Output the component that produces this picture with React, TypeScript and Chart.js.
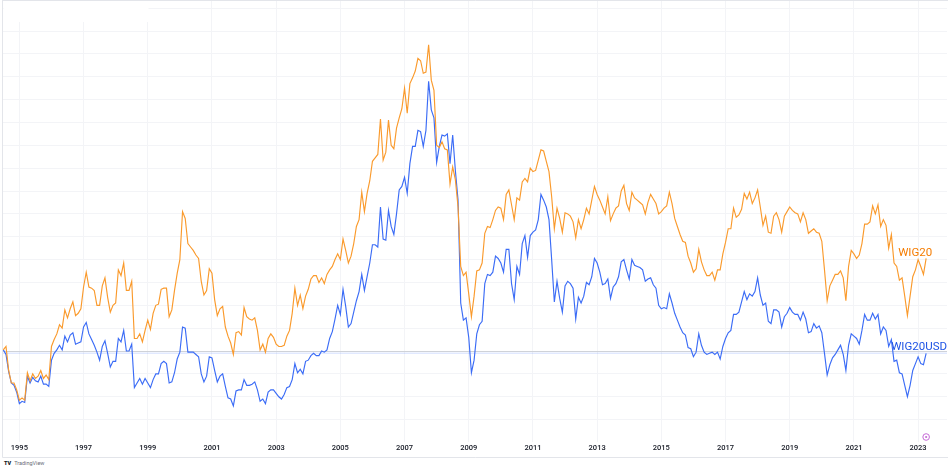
import React, { useEffect, useRef } from "react";
import { Chart, registerables } from "chart.js";

Chart.register(...registerables);

// Monthly closes, percent change from the first month (July 1994)
const START_YEAR = 1994;
const START_MONTH = 7;
const TICK_YEARS = [1995, 1997, 1999, 2001, 2003, 2005, 2007, 2009, 2011, 2013, 2015, 2017, 2019, 2021, 2023];
const GRID_PCT = [-60, -40, -20, 0, 20, 40, 60, 80, 100, 120, 140, 160, 180, 200, 220, 240, 260, 280, 300];
const SERIES_NAMES = ["WIG20", "WIG20USD"];

const WIG20 = [
  1, 4, -17, -28, -28, -34, -43, -41, -43, -19, -26, -20,
  -24, -22, -17, -24, -21, -25, 4, 10, 15, 23, 20, 36,
  29, 37, 43, 31, 33, 37, 56, 69, 56, 55, 53, 40,
  40, 57, 64, 47, 34, 40, 42, 71, 66, 77, 53, 53,
  61, 11, 11, 15, 8, 18, 27, 19, 33, 40, 41, 54,
  55, 55, 30, 36, 53, 68, 80, 122, 116, 94, 91, 88,
  84, 81, 61, 49, 53, 72, 68, 45, 31, 37, 39, 21,
  13, 7, -3, 16, 17, 14, 38, 30, 28, 27, 29, 18,
  1, 6, -1, 11, 15, 12, 6, 4, 4, 5, 13, 18,
  33, 55, 40, 49, 37, 48, 54, 63, 66, 66, 60, 64,
  59, 67, 71, 74, 80, 85, 80, 98, 88, 77, 83, 94,
  109, 115, 139, 122, 138, 149, 166, 169, 172, 203, 167, 174,
  202, 180, 177, 195, 204, 212, 230, 208, 234, 239, 245, 256,
  254, 243, 244, 268, 237, 228, 180, 178, 183, 177, 176, 146,
  161, 150, 126, 74, 66, 69, 50, 30, 48, 70, 71, 77,
  103, 109, 108, 115, 123, 126, 125, 115, 137, 141, 128, 115,
  134, 132, 148, 151, 148, 160, 157, 158, 167, 176, 175, 166,
  157, 135, 107, 125, 116, 104, 121, 120, 118, 113, 99, 115,
  107, 115, 125, 120, 132, 144, 137, 132, 126, 120, 135, 114,
  120, 125, 127, 140, 145, 129, 123, 139, 134, 132, 130, 128,
  120, 130, 137, 133, 129, 120, 122, 125, 127, 139, 129, 116,
  109, 102, 96, 95, 83, 77, 69, 72, 89, 78, 71, 66,
  66, 69, 62, 71, 71, 85, 95, 107, 107, 125, 117, 119,
  124, 138, 133, 139, 129, 134, 141, 126, 110, 118, 104, 103,
  118, 121, 115, 104, 118, 122, 126, 123, 121, 120, 113, 121,
  115, 103, 105, 107, 104, 103, 96, 71, 44, 57, 62, 67,
  67, 70, 64, 44, 74, 88, 85, 81, 84, 94, 111, 111,
  113, 127, 120, 128, 109, 115, 110, 90, 102, 77, 74, 62,
  64, 48, 31, 48, 65, 71, 80, 74, 67, 81,
];

const WIG20USD = [
  1, -3, -18, -28, -30, -36, -46, -44, -45, -22, -28, -23,
  -26, -27, -22, -29, -29, -31, -8, -2, 1, 5, 1, 13,
  8, 14, 16, 6, 7, 8, 21, 25, 15, 10, 5, -1,
  -8, 4, 9, -2, -14, -9, -9, 11, 8, 18, 0, 0,
  6, -32, -28, -24, -29, -24, -28, -32, -25, -20, -20, -11,
  -9, -11, -28, -27, -19, -7, -1, 21, 20, -1, -1, -1,
  -3, -5, -20, -27, -22, -5, -6, -17, -27, -22, -20, -31,
  -41, -42, -48, -35, -34, -34, -25, -30, -30, -29, -27, -34,
  -44, -42, -46, -36, -34, -34, -37, -40, -42, -38, -32, -31,
  -25, -11, -19, -16, -20, -9, -8, -4, -2, -4, -4, 0,
  -1, 1, 11, 17, 28, 40, 32, 54, 39, 21, 24, 34,
  44, 52, 67, 53, 65, 77, 93, 93, 91, 126, 98, 97,
  123, 109, 102, 120, 141, 144, 152, 138, 164, 179, 179, 193,
  192, 179, 193, 236, 211, 204, 165, 179, 189, 188, 190, 164,
  189, 158, 132, 42, 27, 29, 12, -19, -8, 15, 23, 26,
  59, 67, 66, 69, 83, 81, 77, 69, 89, 89, 59, 45,
  74, 67, 94, 101, 82, 101, 104, 106, 115, 137, 132, 126,
  115, 80, 43, 61, 46, 34, 57, 61, 59, 55, 28, 47,
  42, 48, 60, 58, 65, 81, 77, 69, 58, 59, 63, 46,
  56, 59, 65, 78, 80, 71, 63, 80, 75, 74, 73, 71,
  61, 63, 64, 58, 55, 40, 37, 38, 37, 50, 42, 33,
  27, 21, 16, 14, 3, 2, -5, -1, 15, 5, -1, -3,
  -2, -1, -3, -1, -7, 4, 11, 16, 18, 32, 32, 34,
  43, 52, 45, 50, 48, 52, 64, 49, 40, 42, 26, 24,
  36, 36, 34, 21, 30, 33, 38, 34, 32, 32, 27, 34,
  28, 16, 17, 24, 20, 22, 16, -2, -21, -12, -6, -3,
  1, 5, -3, -17, 5, 15, 13, 11, 6, 18, 32, 27,
  27, 33, 28, 32, 15, 21, 18, 4, 10, -9, -8, -19,
  -20, -30, -40, -30, -17, -11, -5, -11, -12, -2,
];

const ORANGE = "#FA9A2C";
const BLUE = "#3B6CF6";
const GRID = "#f3f4f7";
const FONT = "Roboto, 'DejaVu Sans', sans-serif";

const monthX = (i: number) => START_YEAR + (START_MONTH - 1) / 12 + i / 12;
const toPoints = (arr: number[]) => arr.map((v, i) => ({ x: monthX(i), y: v }));

const overlay = {
  id: "tvOverlay",
  beforeDatasetsDraw(chart: any) {
    const { ctx, chartArea, scales } = chart;
    ctx.save();
    ctx.fillStyle = "#ffffff";
    ctx.fillRect(chartArea.left + 0.5, 0, 145, 22);
    const y0 = Math.round(scales.y.getPixelForValue(0)) + 0.5;
    ctx.strokeStyle = "#cfd2d8";
    ctx.lineWidth = 1;
    ctx.beginPath();
    ctx.moveTo(chartArea.left, y0);
    ctx.lineTo(chartArea.right, y0);
    ctx.stroke();
    const yl = scales.y.getPixelForValue(WIG20USD[WIG20USD.length - 1]);
    ctx.strokeStyle = "rgba(41,98,255,0.14)";
    ctx.lineWidth = 1.5;
    ctx.beginPath();
    ctx.moveTo(chartArea.left, yl);
    ctx.lineTo(chartArea.right, yl);
    ctx.stroke();
    ctx.restore();
  },
  afterDraw(chart: any) {
    const { ctx, chartArea } = chart;
    ctx.save();
    ctx.strokeStyle = "#e3e5ea";
    ctx.lineWidth = 1;
    ctx.beginPath();
    ctx.moveTo(2.5, 0);
    ctx.lineTo(2.5, 457.5);
    ctx.moveTo(2.5, 0.5);
    ctx.lineTo(948, 0.5);
    ctx.moveTo(2.5, 457.5);
    ctx.lineTo(948, 457.5);
    ctx.stroke();

    ctx.font = `11.5px ${FONT}`;
    ctx.textBaseline = "middle";
    ctx.textAlign = "left";
    const mO = chart.getDatasetMeta(0).data;
    const mB = chart.getDatasetMeta(1).data;
    const lo = mO[mO.length - 1];
    const lb = mB[mB.length - 1];
    ctx.fillStyle = "#F57C00";
    ctx.fillText(SERIES_NAMES[0], lo.x - 28, lo.y - 5);
    ctx.fillStyle = "#1E53E5";
    ctx.fillText(SERIES_NAMES[1], lb.x - 35, lb.y - 6);

    const cx = lb.x;
    const cy = chartArea.bottom - 5;
    ctx.strokeStyle = "#c56ad6";
    ctx.lineWidth = 1;
    ctx.beginPath();
    ctx.arc(cx, cy, 3.3, 0, Math.PI * 2);
    ctx.stroke();
    ctx.fillStyle = "#c56ad6";
    ctx.beginPath();
    ctx.arc(cx, cy, 1.1, 0, Math.PI * 2);
    ctx.fill();
    ctx.restore();
  },
};

export default function App() {
  const ref = useRef<HTMLCanvasElement | null>(null);
  useEffect(() => {
    if (!ref.current) return;
    const chart = new Chart(ref.current, {
      type: "line",
      data: {
        datasets: [
          {
            label: SERIES_NAMES[0],
            data: toPoints(WIG20),
            borderColor: ORANGE,
            borderWidth: 1.15,
            pointRadius: 0,
            tension: 0,
            fill: false,
          },
          {
            label: SERIES_NAMES[1],
            data: toPoints(WIG20USD),
            borderColor: BLUE,
            borderWidth: 1.15,
            pointRadius: 0,
            tension: 0,
            fill: false,
          },
        ],
      },
      options: {
        responsive: false,
        animation: false,
        parsing: false,
        normalized: true,
        layout: { padding: { left: 3, right: 1, top: 1, bottom: 0 } },
        plugins: { legend: { display: false }, tooltip: { enabled: false } },
        scales: {
          x: {
            type: "linear",
            min: 1994.49,
            max: 2023.9,
            afterBuildTicks: (axis: any) => {
              axis.ticks = TICK_YEARS.map((v) => ({ value: v }));
            },
            afterFit: (scale: any) => {
              scale.height = 16;
            },
            grid: { color: GRID, drawTicks: false, lineWidth: 1 },
            border: { display: false },
            ticks: {
              autoSkip: false,
              maxRotation: 0,
              padding: 2,
              color: "#131722",
              font: { family: FONT, size: 7.5, weight: "500" },
              callback: (v: any) => String(v),
            },
          },
          y: {
            type: "linear",
            min: -79.6,
            max: 306.25,
            afterBuildTicks: (axis: any) => {
              axis.ticks = GRID_PCT.map((v) => ({ value: v }));
            },
            afterFit: (scale: any) => {
              scale.width = 0;
            },
            grid: { color: GRID, drawTicks: false, lineWidth: 1 },
            border: { display: false },
            ticks: { display: false },
          },
        },
      },
      plugins: [overlay],
    } as any);
    return () => chart.destroy();
  }, []);

  return (
    <div style={{ position: "fixed", left: 0, top: 0, width: 948, height: 470, background: "#ffffff" }}>
      <canvas ref={ref} width={948} height={458} style={{ display: "block", width: 948, height: 458 }} />
      <div
        style={{
          position: "absolute",
          left: 4,
          top: 459,
          fontFamily: FONT,
          fontSize: 5.5,
          lineHeight: "8px",
          color: "#6a6d78",
          whiteSpace: "nowrap",
        }}
      >
        <span style={{ fontWeight: 900, color: "#131722", marginRight: 3 }}>TV</span>
        TradingView
      </div>
    </div>
  );
}
